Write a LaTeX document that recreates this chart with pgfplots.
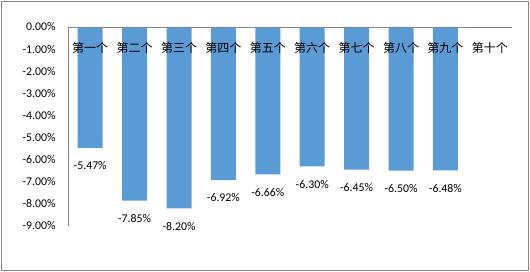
\documentclass[border=0pt]{standalone}
\usepackage{pgfplots}
\pgfplotsset{compat=1.18}
\usepackage{fontspec}
\setmainfont{Carlito}
\newfontfamily\cjk{Noto Sans CJK SC}
\definecolor{barblue}{HTML}{5B9BD5}
\definecolor{axgray}{HTML}{868686}
\begin{document}
\begin{tikzpicture}
\useasboundingbox (-68bp,-46bp) rectangle (462bp,226bp);
\draw[axgray, line width=1.2bp] (-66.5bp,-44.5bp) rectangle (460.5bp,224.5bp);
\begin{axis}[
  at={(0,0)}, anchor=south west,
  width=444bp, height=199bp, scale only axis,
  axis on top,
  xmin=-0.5, xmax=9.5, ymin=-9, ymax=0,
  axis x line*=top, axis y line*=left,
  axis line style={axgray, line width=0.8bp, -},
  major tick length=0pt,
  xtick={0,...,9},
  xticklabels={第一个,第二个,第三个,第四个,第五个,第六个,第七个,第八个,第九个,第十个},
  xticklabel style={font=\cjk\fontsize{12bp}{14bp}\selectfont, anchor=center, yshift=-21bp},
  ytick={-9,-8,-7,-6,-5,-4,-3,-2,-1,0},
  yticklabel={\pgfmathprintnumber[fixed,fixed zerofill,precision=2,assume math mode=true]{\tick}\%},
  yticklabel style={font=\fontsize{11.8bp}{13bp}\selectfont, xshift=-9bp},
  ybar, bar width=25bp,
  nodes near coords={\pgfmathprintnumber[fixed,fixed zerofill,precision=2,assume math mode=true]{\pgfplotspointmeta}\%},
  every node near coord/.append style={font=\fontsize{11.8bp}{13bp}\selectfont, anchor=center, yshift=-18bp, inner sep=0pt},
]
\addplot[fill=barblue, draw=none] coordinates {
(0,-5.47) (1,-7.85) (2,-8.20) (3,-6.92) (4,-6.66)
(5,-6.30) (6,-6.45) (7,-6.50) (8,-6.48)
};
\end{axis}
\end{tikzpicture}
\end{document}
